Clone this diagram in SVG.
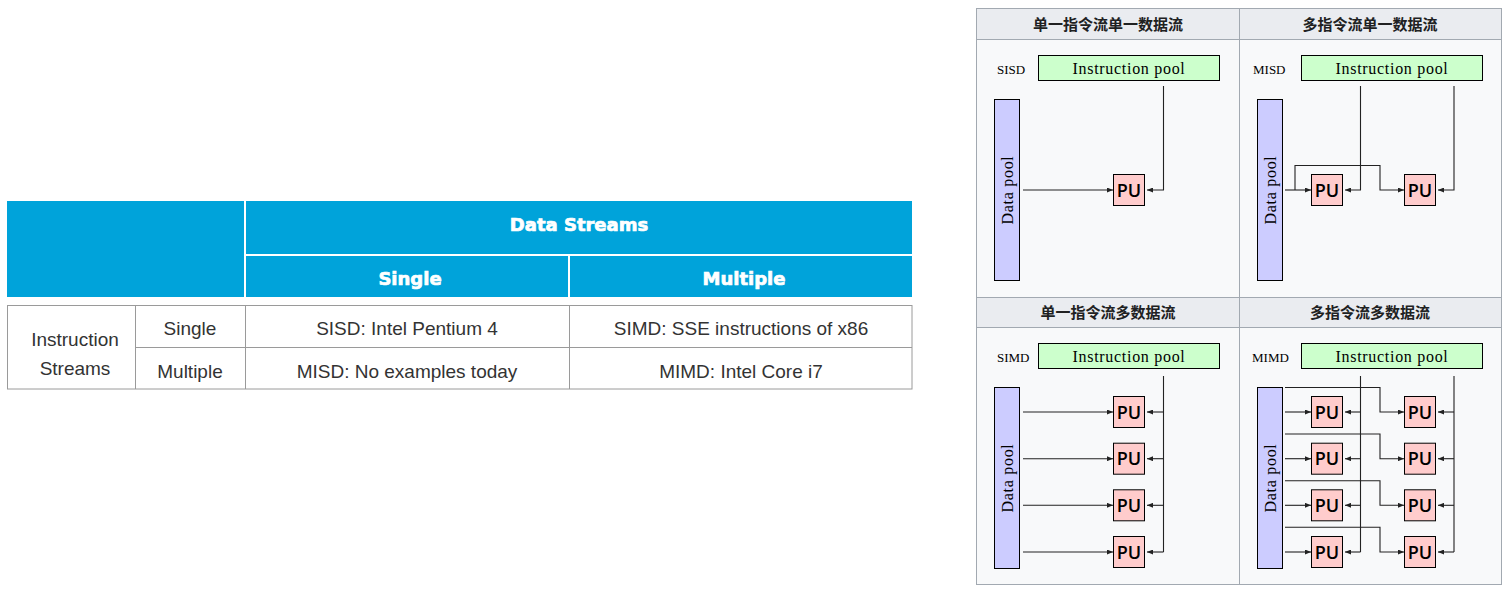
<svg xmlns="http://www.w3.org/2000/svg" width="1511" height="592" viewBox="0 0 1511 592">
<style>
.hdr{fill:#00a3da}
.ht{font-family:"DejaVu Sans",sans-serif;font-weight:bold;font-size:18px;fill:#fff;stroke:#fff;stroke-width:0.7px;text-anchor:middle}
.bt{font-family:"Liberation Sans",Arial,sans-serif;font-size:19px;fill:#333;text-anchor:middle}
.gl{stroke:#9a9a9a;stroke-width:1;fill:none}
.cjk{font-family:"Noto Sans CJK SC",sans-serif;font-weight:bold;font-size:15px;fill:#202122;text-anchor:middle}
.ip{fill:#ccffcc;stroke:#000;stroke-width:1}
.dp{fill:#ccccff;stroke:#000;stroke-width:1}
.pu{fill:#ffcccc;stroke:#000;stroke-width:1}
.st{font-family:"Liberation Serif",serif;font-size:16px;letter-spacing:0.7px;fill:#000;text-anchor:middle}
.lb{font-family:"Liberation Serif",serif;font-size:13px;fill:#000}
.put{font-family:"Open Sans","DejaVu Sans",sans-serif;font-weight:600;font-size:18px;text-anchor:middle;fill:#000}
.c{fill:none;stroke:#222;stroke-width:1.1}
</style>
<defs>
<marker id="ah" markerWidth="6" markerHeight="5" refX="6" refY="2.5" orient="auto" markerUnits="userSpaceOnUse"><path d="M0,0 L6,2.5 L0,5 z" fill="#222"/></marker>
</defs>
<rect width="1511" height="592" fill="#fff"/>

<g id="flynn-table">
<rect class="hdr" x="7" y="201" width="237" height="96"/>
<rect class="hdr" x="246" y="201" width="666" height="53"/>
<rect class="hdr" x="246" y="256" width="322" height="41"/>
<rect class="hdr" x="570" y="256" width="342" height="41"/>
<text class="ht" x="579" y="231">Data Streams</text>
<text class="ht" x="410" y="285">Single</text>
<text class="ht" x="744" y="285">Multiple</text>
<rect class="gl" x="7.5" y="305.5" width="904.5" height="83.5"/>
<path class="gl" d="M135.5,305.5 V389 M245.5,305.5 V389 M569.5,305.5 V389 M135.5,347.5 H912"/>
<text class="bt" x="75" y="345.5">Instruction</text>
<text class="bt" x="75" y="375">Streams</text>
<text class="bt" x="190" y="335">Single</text>
<text class="bt" x="190" y="378">Multiple</text>
<text class="bt" x="407" y="335">SISD: Intel Pentium 4</text>
<text class="bt" x="741" y="335">SIMD: SSE instructions of x86</text>
<text class="bt" x="407" y="378">MISD: No examples today</text>
<text class="bt" x="741" y="378">MIMD: Intel Core i7</text>
</g>

<g id="wiki-table">
<rect x="976.5" y="8.5" width="525" height="576" fill="#f8f9fa" stroke="#a2a9b1"/>
<rect x="976.5" y="8.5" width="525" height="31" fill="#eaecf0" stroke="#a2a9b1"/>
<rect x="976.5" y="297.5" width="525" height="30" fill="#eaecf0" stroke="#a2a9b1"/>
<path d="M1239.5,8.5 V584.5" stroke="#a2a9b1" fill="none"/>
<text class="cjk" x="1108" y="29.5">单一指令流单一数据流</text>
<text class="cjk" x="1370" y="29.5">多指令流单一数据流</text>
<text class="cjk" x="1108" y="318">单一指令流多数据流</text>
<text class="cjk" x="1370" y="318">多指令流多数据流</text>
<text class="lb" x="997" y="74">SISD</text>
<text class="lb" x="1253" y="74">MISD</text>
<text class="lb" x="997" y="362">SIMD</text>
<text class="lb" x="1252" y="362">MIMD</text>
</g>

<g id="sisd-ipool"><rect class="ip" x="1038.5" y="55.5" width="181" height="25"/><text class="st" x="1129" y="74">Instruction pool</text></g>
<g id="sisd-dpool"><rect class="dp" x="994.5" y="99.5" width="25" height="181"/><text class="st" transform="translate(1012.5,190) rotate(-90)">Data pool</text></g>
<g id="sisd-pu"><rect class="pu" x="1113.5" y="174.5" width="31" height="31"/><text class="put" x="1129" y="196.5">PU</text></g>

<g id="misd-ipool"><rect class="ip" x="1301.5" y="55.5" width="181" height="25"/><text class="st" x="1392" y="74">Instruction pool</text></g>
<g id="misd-dpool"><rect class="dp" x="1257.5" y="99.5" width="25" height="181"/><text class="st" transform="translate(1275.5,190) rotate(-90)">Data pool</text></g>
<g id="misd-pu1"><rect class="pu" x="1311.5" y="174.5" width="31" height="31"/><text class="put" x="1327" y="196.5">PU</text></g>
<g id="misd-pu2"><rect class="pu" x="1404.5" y="174.5" width="31" height="31"/><text class="put" x="1420" y="196.5">PU</text></g>

<g id="simd-ipool"><rect class="ip" x="1038.5" y="343.5" width="181" height="25"/><text class="st" x="1129" y="362">Instruction pool</text></g>
<g id="simd-dpool"><rect class="dp" x="994.5" y="387.5" width="25" height="181"/><text class="st" transform="translate(1012.5,478) rotate(-90)">Data pool</text></g>
<g id="simd-pu1"><rect class="pu" x="1113.5" y="396.5" width="31" height="31"/><text class="put" x="1129" y="418.5">PU</text></g>
<g id="simd-pu2"><rect class="pu" x="1113.5" y="443.2" width="31" height="31"/><text class="put" x="1129" y="465.2">PU</text></g>
<g id="simd-pu3"><rect class="pu" x="1113.5" y="489.8" width="31" height="31"/><text class="put" x="1129" y="511.8">PU</text></g>
<g id="simd-pu4"><rect class="pu" x="1113.5" y="536.5" width="31" height="31"/><text class="put" x="1129" y="558.5">PU</text></g>

<g id="mimd-ipool"><rect class="ip" x="1301.5" y="343.5" width="181" height="25"/><text class="st" x="1392" y="362">Instruction pool</text></g>
<g id="mimd-dpool"><rect class="dp" x="1257.5" y="387.5" width="25" height="181"/><text class="st" transform="translate(1275.5,478) rotate(-90)">Data pool</text></g>
<g id="mimd-pu1a"><rect class="pu" x="1311.5" y="396.5" width="31" height="31"/><text class="put" x="1327" y="418.5">PU</text></g>
<g id="mimd-pu2a"><rect class="pu" x="1311.5" y="443.2" width="31" height="31"/><text class="put" x="1327" y="465.2">PU</text></g>
<g id="mimd-pu3a"><rect class="pu" x="1311.5" y="489.8" width="31" height="31"/><text class="put" x="1327" y="511.8">PU</text></g>
<g id="mimd-pu4a"><rect class="pu" x="1311.5" y="536.5" width="31" height="31"/><text class="put" x="1327" y="558.5">PU</text></g>
<g id="mimd-pu1b"><rect class="pu" x="1404.5" y="396.5" width="31" height="31"/><text class="put" x="1420" y="418.5">PU</text></g>
<g id="mimd-pu2b"><rect class="pu" x="1404.5" y="443.2" width="31" height="31"/><text class="put" x="1420" y="465.2">PU</text></g>
<g id="mimd-pu3b"><rect class="pu" x="1404.5" y="489.8" width="31" height="31"/><text class="put" x="1420" y="511.8">PU</text></g>
<g id="mimd-pu4b"><rect class="pu" x="1404.5" y="536.5" width="31" height="31"/><text class="put" x="1420" y="558.5">PU</text></g>

<g id="connectors">
<path class="c" marker-end="url(#ah)" d="M1023,190 H1113"/>
<path class="c" marker-end="url(#ah)" d="M1163.5,86 V190 H1147"/>

<path class="c" marker-end="url(#ah)" d="M1285,190 H1311"/>
<path class="c" marker-end="url(#ah)" d="M1295,190 V165.5 H1380 V190 H1404"/>
<path class="c" marker-end="url(#ah)" d="M1360.5,86 V190 H1345"/>
<path class="c" marker-end="url(#ah)" d="M1454,86 V190 H1438"/>

<path class="c" marker-end="url(#ah)" d="M1023,412 H1113"/>
<path class="c" marker-end="url(#ah)" d="M1023,458.7 H1113"/>
<path class="c" marker-end="url(#ah)" d="M1023,505.3 H1113"/>
<path class="c" marker-end="url(#ah)" d="M1023,552 H1113"/>
<path class="c" d="M1163.5,376 V552"/>
<path class="c" marker-end="url(#ah)" d="M1163.5,412 H1147"/>
<path class="c" marker-end="url(#ah)" d="M1163.5,458.7 H1147"/>
<path class="c" marker-end="url(#ah)" d="M1163.5,505.3 H1147"/>
<path class="c" marker-end="url(#ah)" d="M1163.5,552 H1147"/>

<path class="c" marker-end="url(#ah)" d="M1285,412 H1311"/>
<path class="c" marker-end="url(#ah)" d="M1285,458.7 H1311"/>
<path class="c" marker-end="url(#ah)" d="M1285,505.3 H1311"/>
<path class="c" marker-end="url(#ah)" d="M1285,552 H1311"/>
<path class="c" marker-end="url(#ah)" d="M1285,387.5 H1380 V412 H1404"/>
<path class="c" marker-end="url(#ah)" d="M1285,434 H1380 V458.7 H1404"/>
<path class="c" marker-end="url(#ah)" d="M1285,480.7 H1380 V505.3 H1404"/>
<path class="c" marker-end="url(#ah)" d="M1285,527.3 H1380 V552 H1404"/>
<path class="c" d="M1360.5,376 V552 M1454,376 V552"/>
<path class="c" marker-end="url(#ah)" d="M1360.5,412 H1345"/>
<path class="c" marker-end="url(#ah)" d="M1360.5,458.7 H1345"/>
<path class="c" marker-end="url(#ah)" d="M1360.5,505.3 H1345"/>
<path class="c" marker-end="url(#ah)" d="M1360.5,552 H1345"/>
<path class="c" marker-end="url(#ah)" d="M1454,412 H1438"/>
<path class="c" marker-end="url(#ah)" d="M1454,458.7 H1438"/>
<path class="c" marker-end="url(#ah)" d="M1454,505.3 H1438"/>
<path class="c" marker-end="url(#ah)" d="M1454,552 H1438"/>
</g>
</svg>
